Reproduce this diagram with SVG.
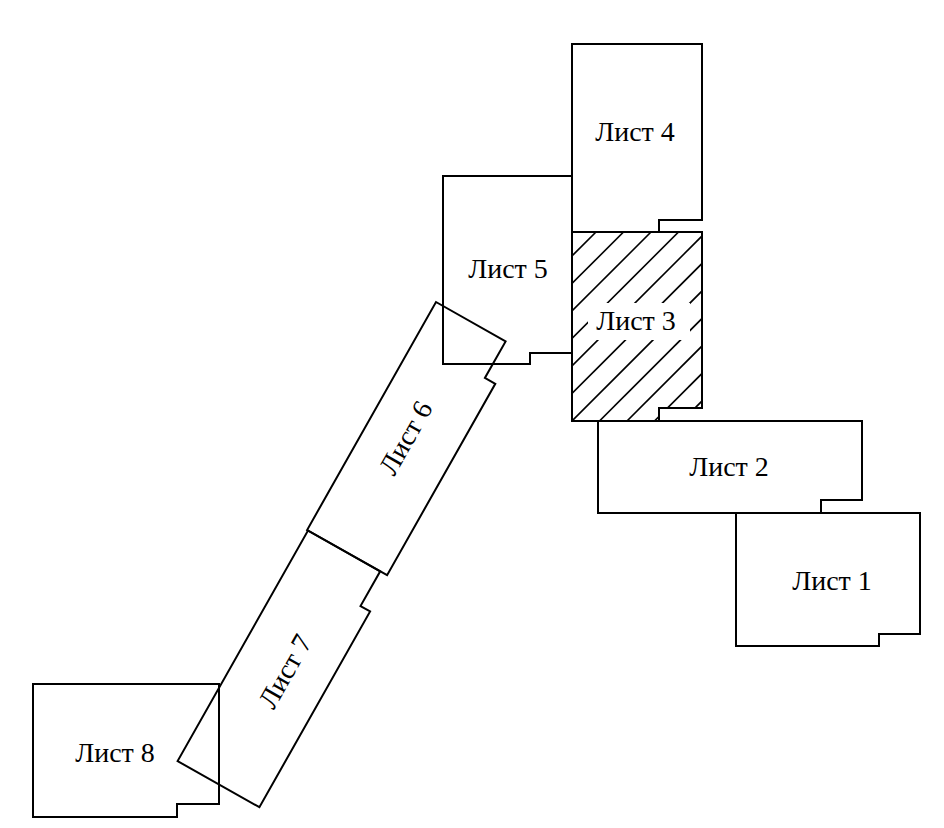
<svg xmlns="http://www.w3.org/2000/svg" width="944" height="828" viewBox="0 0 944 828">
<style>
.s{fill:none;stroke:#000;stroke-width:2;stroke-linejoin:miter}
.h{stroke:#000;stroke-width:1.6}
.t{font-family:"Liberation Serif","Times New Roman",serif;font-size:28px;fill:#000;text-anchor:middle}
</style>
<defs>
<clipPath id="c3"><polygon points="572,232 702,232 702,408 659,408 659,421 572,421"/></clipPath>
</defs>
<rect width="944" height="828" fill="#fff"/>
<g id="sheet3">
<g clip-path="url(#c3)" class="h">
<line x1="572" y1="256" x2="702" y2="126"/>
<line x1="572" y1="283.5" x2="722" y2="133.5"/>
<line x1="572" y1="311" x2="722" y2="161"/>
<line x1="572" y1="338.5" x2="722" y2="188.5"/>
<line x1="572" y1="366" x2="722" y2="216"/>
<line x1="572" y1="393.5" x2="722" y2="243.5"/>
<line x1="552" y1="441" x2="722" y2="271"/>
<line x1="552" y1="468.5" x2="722" y2="298.5"/>
<line x1="552" y1="496" x2="722" y2="326"/>
<line x1="552" y1="523.5" x2="722" y2="353.5"/>
<line x1="552" y1="551" x2="722" y2="381"/>
<line x1="552" y1="578.5" x2="722" y2="408.5"/>
</g>
<rect x="588" y="303" width="102" height="37" fill="#fff"/>
<polygon class="s" points="572,232 702,232 702,408 659,408 659,421 572,421"/>
<text class="t" x="636" y="330">Лист 3</text>
</g>
<g id="sheet4">
<polygon class="s" points="572,44 702,44 702,220 659,220 659,232 572,232"/>
<text class="t" x="635" y="141">Лист 4</text>
</g>
<g id="sheet5">
<polygon class="s" points="443,176 572,176 572,353 530,353 530,364 443,364"/>
<text class="t" x="508" y="278">Лист 5</text>
</g>
<g id="sheet2">
<polygon class="s" points="598,421 862,421 862,500 821,500 821,513 598,513"/>
<text class="t" x="729" y="476">Лист 2</text>
</g>
<g id="sheet1">
<polygon class="s" points="736,513 920,513 920,634 879,634 879,646 736,646"/>
<text class="t" x="832" y="590">Лист 1</text>
</g>
<g id="sheet6">
<polygon class="s" points="436,302 505.6,341.4 484.9,377.9 495.3,383.8 387.1,575.2 307.1,530"/>
<text class="t" transform="translate(406,438) rotate(-60.5)" x="0" y="9">Лист 6</text>
</g>
<g id="sheet7">
<polygon class="s" points="308,530.5 380.2,571.3 360.5,606.1 370.1,611.5 259.4,807.2 177.6,761.1"/>
<text class="t" transform="translate(285.5,671.5) rotate(-60.5)" x="0" y="9">Лист 7</text>
</g>
<g id="sheet8">
<polygon class="s" points="33,684 219,684 219,804 177,804 177,817 33,817"/>
<text class="t" x="115" y="762">Лист 8</text>
</g>
</svg>
